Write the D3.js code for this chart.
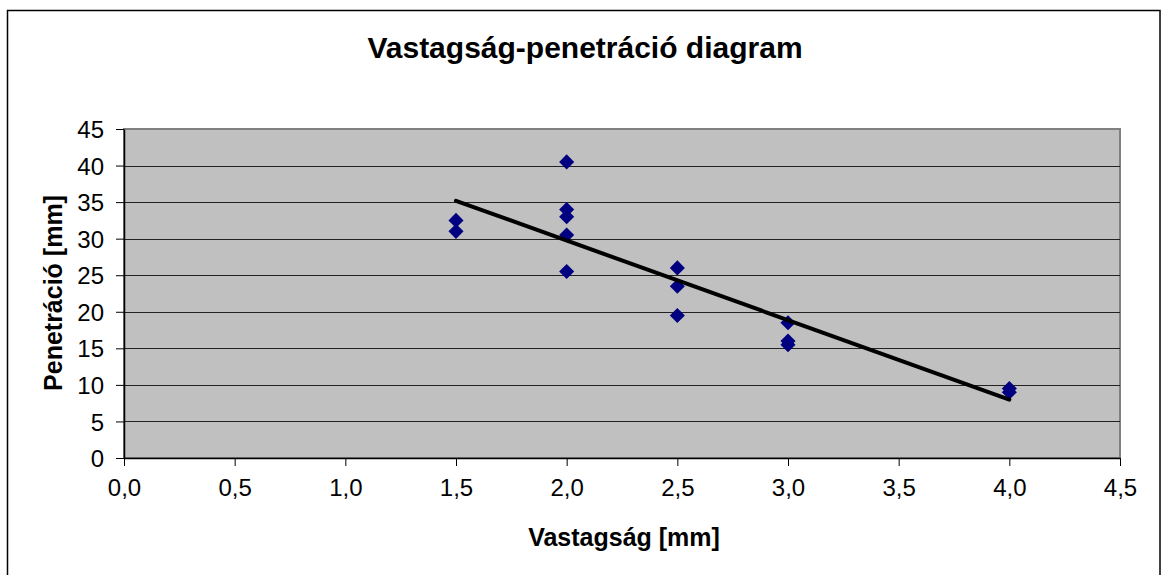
<!DOCTYPE html>
<html>
<head>
<meta charset="utf-8">
<script src="https://cdn.jsdelivr.net/npm/d3@7"></script>
<style>
  html, body { margin: 0; padding: 0; background: #fff; }
  svg { display: block; font-family: "Liberation Sans", Arial, sans-serif; }
</style>
</head>
<body>
<svg id="chart" width="1161" height="575"></svg>
<script>
// Measurements: thickness (mm) and penetration (mm)
const thickness   = [1.5, 1.5, 2.0, 2.0, 2.0, 2.0, 2.0, 2.5, 2.5, 2.5, 3.0, 3.0, 3.0, 4.0, 4.0];
const penetration = [32.5, 31, 40.5, 34, 33, 30.5, 25.5, 26, 23.5, 19.5, 18.5, 16, 15.5, 9.5, 9];

const xTicks = [0, 0.5, 1.0, 1.5, 2.0, 2.5, 3.0, 3.5, 4.0, 4.5];
const yTicks = [0, 5, 10, 15, 20, 25, 30, 35, 40, 45];

const titleText = "Vastagság-penetráció diagram";
const xTitle = "Vastagság [mm]";
const yTitle = "Penetráció [mm]";

const svg = d3.select("#chart");
const plot = { left: 124, top: 129, right: 1120, bottom: 458 };

const x = d3.scaleLinear().domain([0, 4.5]).range([plot.left, plot.right]);
const y = d3.scaleLinear().domain([0, 45]).range([plot.bottom, plot.top]);

// Outer chart frame
svg.append("rect")
  .attr("x", 7.5).attr("y", 10.5)
  .attr("width", 1152.5).attr("height", 600)
  .attr("fill", "#fff").attr("stroke", "#000").attr("stroke-width", 1.5);

// Plot area background
svg.append("rect")
  .attr("x", plot.left).attr("y", plot.top)
  .attr("width", plot.right - plot.left).attr("height", plot.bottom - plot.top)
  .attr("fill", "#c0c0c0").attr("stroke", "#808080").attr("stroke-width", 2);

// Horizontal gridlines
svg.append("g").selectAll("line")
  .data(yTicks.filter(d => d > 0 && d < 45))
  .join("line")
  .attr("x1", plot.left).attr("x2", plot.right)
  .attr("y1", d => Math.round(y(d)) + 0.5).attr("y2", d => Math.round(y(d)) + 0.5)
  .attr("stroke", "#222").attr("stroke-width", 1);

// Axes
const fmt = d3.format(".1f");
const xAxis = svg.append("g")
  .attr("transform", `translate(0,${plot.bottom})`)
  .call(d3.axisBottom(x).tickValues(xTicks).tickSize(8).tickSizeOuter(0)
        .tickFormat(d => fmt(d).replace(".", ",")));
const yAxis = svg.append("g")
  .attr("transform", `translate(${plot.left},0)`)
  .call(d3.axisLeft(y).tickValues(yTicks).tickSize(8).tickSizeOuter(0));

[xAxis, yAxis].forEach(g => {
  g.select(".domain").attr("stroke", "#000").attr("stroke-width", 1.5);
  g.selectAll(".tick line").attr("stroke", "#000").attr("stroke-width", 1);
  g.selectAll(".tick text")
    .attr("fill", "#000")
    .style("font-size", "24px")
    .style("font-family", "'Liberation Sans', Arial, sans-serif");
});
xAxis.selectAll(".tick text").attr("y", 21);
yAxis.selectAll(".tick text").attr("x", -20).attr("dy", "0.36em");

// Linear trend line (least squares fit)
const n = thickness.length;
const mx = d3.mean(thickness), my = d3.mean(penetration);
let sxy = 0, sxx = 0;
for (let i = 0; i < n; i++) {
  sxy += (thickness[i] - mx) * (penetration[i] - my);
  sxx += (thickness[i] - mx) ** 2;
}
const slope = sxy / sxx, intercept = my - slope * mx;
const xr = d3.extent(thickness);

// Data markers (diamonds)
const diamond = d3.symbol().type(d3.symbolDiamond2).size(145);
svg.append("g").selectAll("path")
  .data(thickness.map((t, i) => [t, penetration[i]]))
  .join("path")
  .attr("transform", d => `translate(${x(d[0])},${y(d[1])})`)
  .attr("d", diamond)
  .attr("fill", "#000080");

svg.append("line")
  .attr("x1", x(xr[0])).attr("y1", y(slope * xr[0] + intercept))
  .attr("x2", x(xr[1])).attr("y2", y(slope * xr[1] + intercept))
  .attr("stroke", "#000").attr("stroke-width", 4).attr("stroke-linecap", "round");

// Titles
svg.append("text")
  .attr("x", 585).attr("y", 58)
  .attr("text-anchor", "middle")
  .style("font-size", "30px").style("font-weight", "bold")
  .text(titleText);

svg.append("text")
  .attr("x", 624).attr("y", 546)
  .attr("text-anchor", "middle")
  .style("font-size", "25px").style("font-weight", "bold")
  .text(xTitle);

svg.append("text")
  .attr("transform", "translate(62,293) rotate(-90)")
  .attr("text-anchor", "middle")
  .style("font-size", "25px").style("font-weight", "bold")
  .text(yTitle);
</script>
</body>
</html>
